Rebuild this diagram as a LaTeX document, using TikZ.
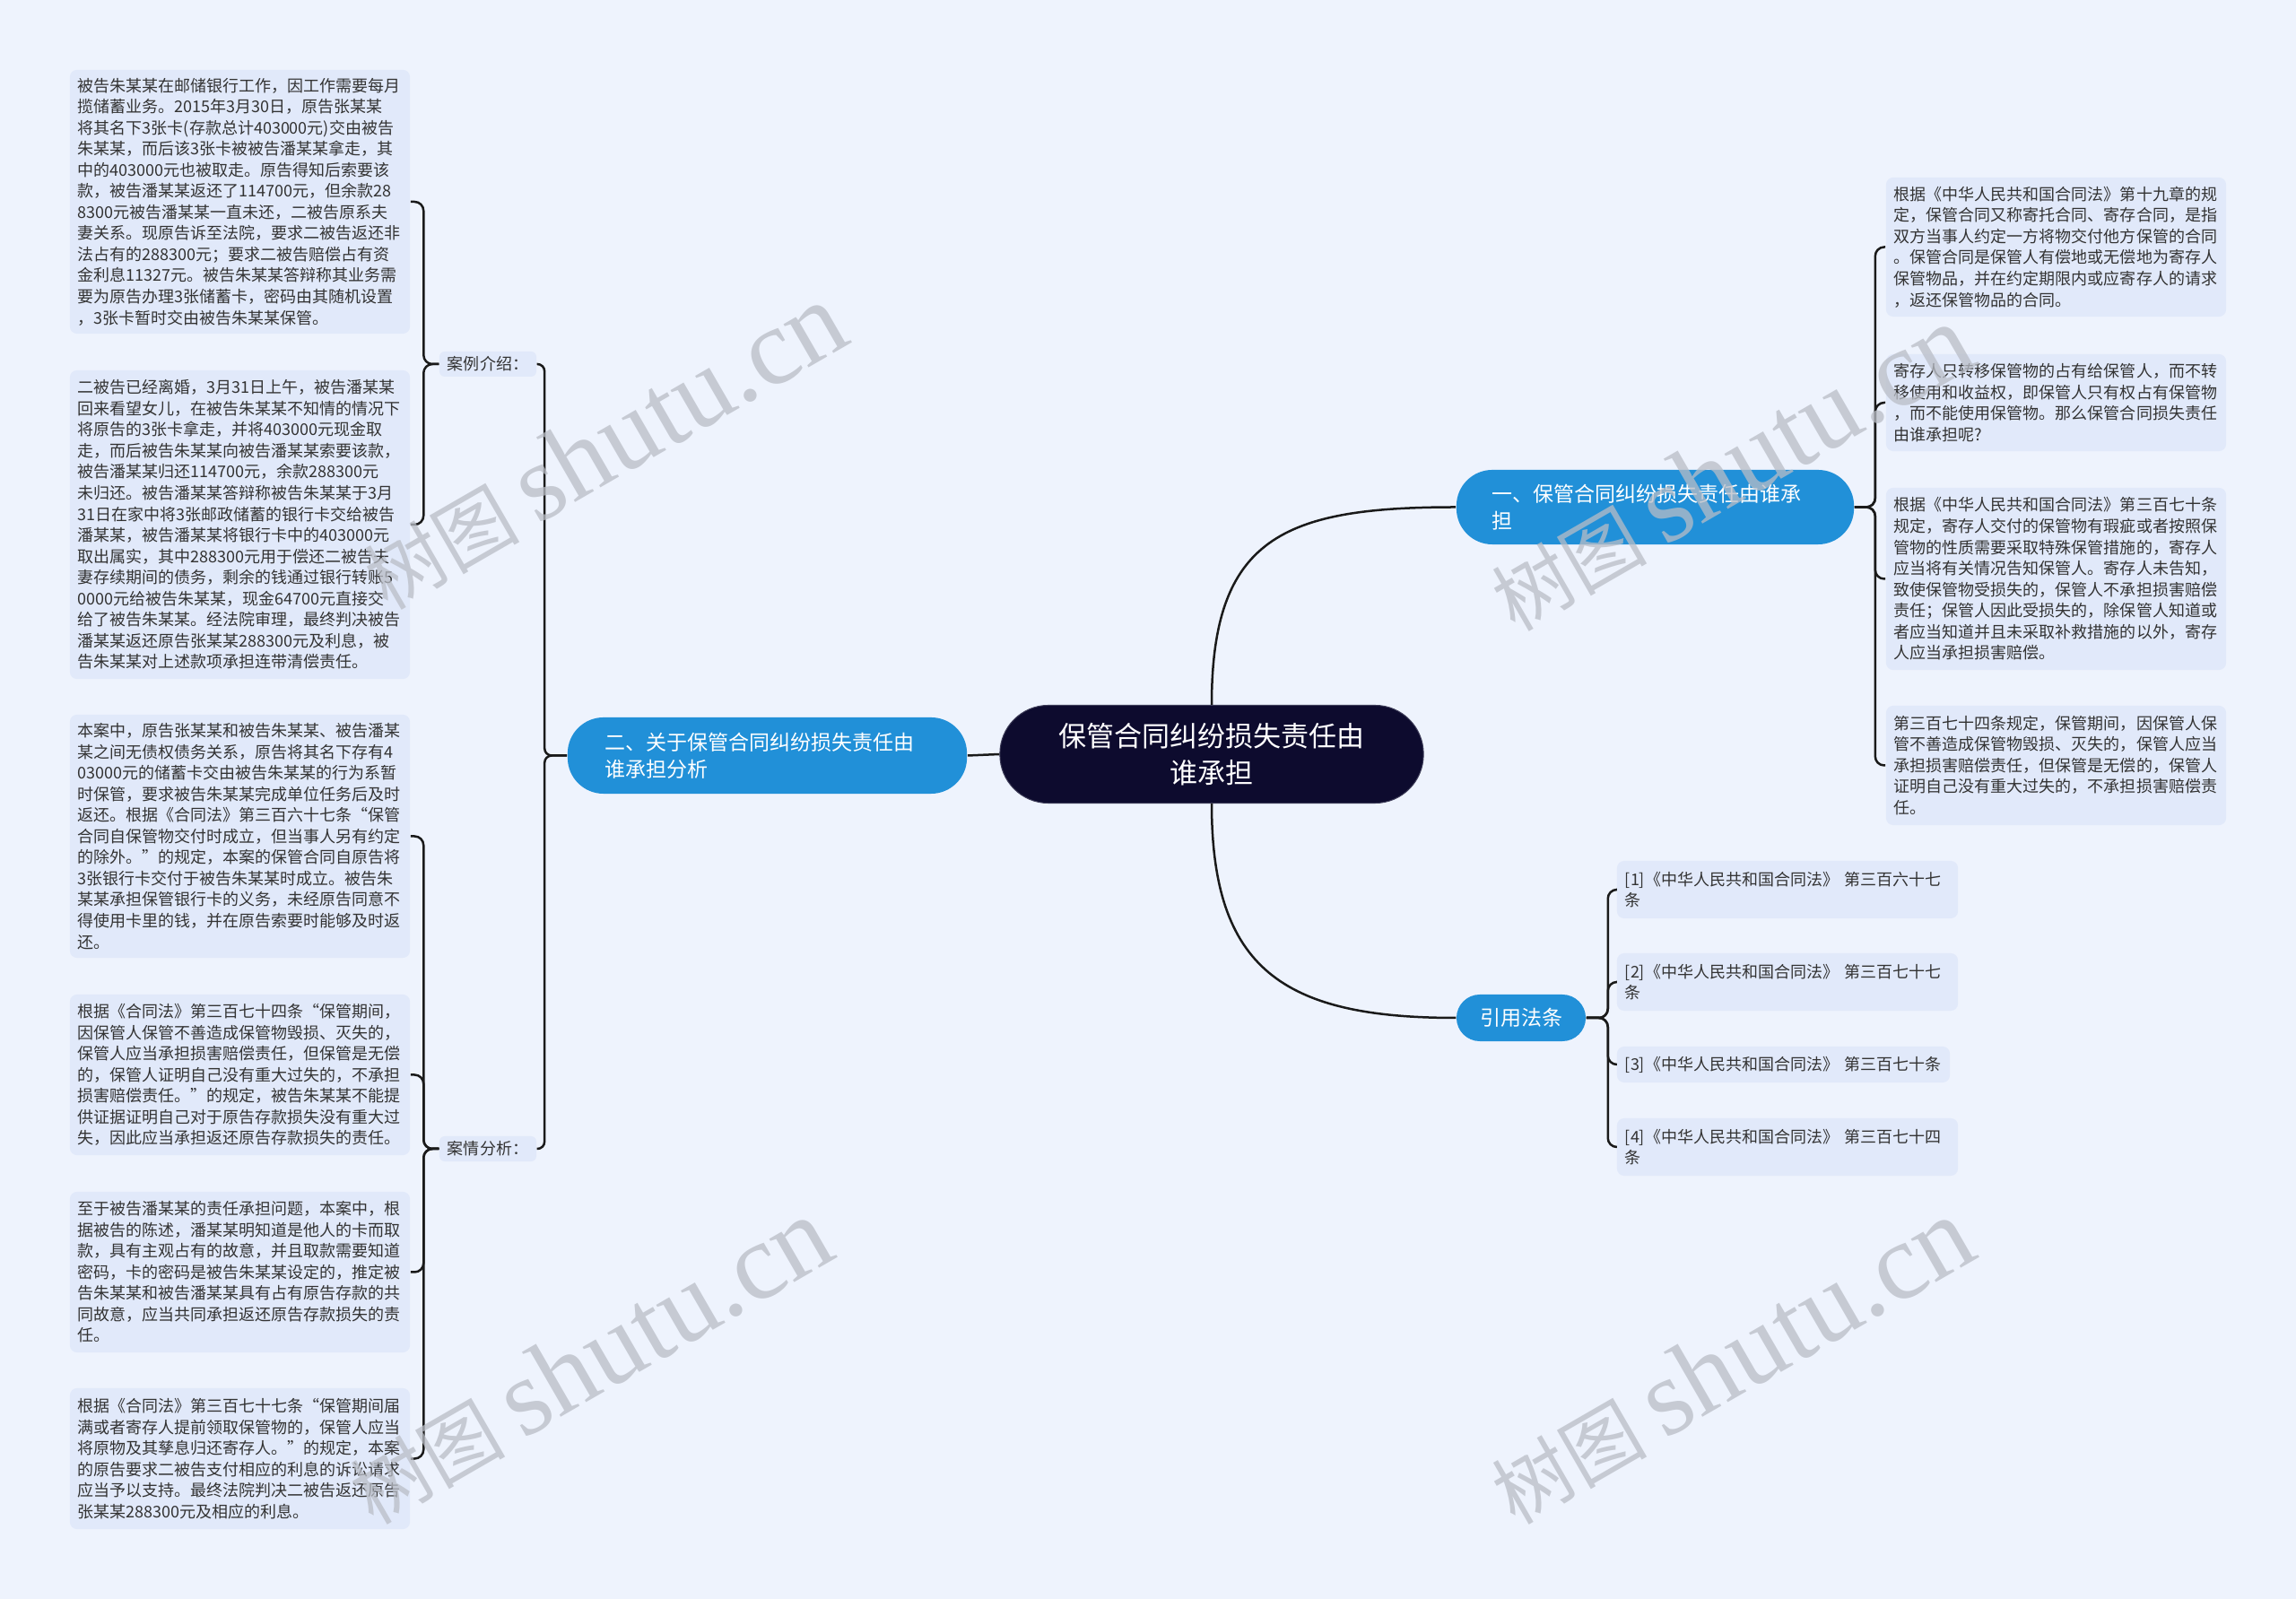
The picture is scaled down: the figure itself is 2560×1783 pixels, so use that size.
\documentclass[tikz,border=0pt]{standalone}
\usepackage{fontspec}
\setmainfont{Noto Sans CJK SC}
\newfontfamily\wmlat{Liberation Serif}
\usetikzlibrary{positioning}
\definecolor{bgc}{HTML}{EEF3FD}
\definecolor{boxc}{HTML}{E1E9FA}
\definecolor{txt}{HTML}{333333}
\definecolor{brc}{HTML}{2190D8}
\definecolor{rootc}{HTML}{0D0B2E}
\definecolor{linec}{HTML}{1A1A1A}
\definecolor{wmc}{HTML}{B9BDC6}
\newcommand\boxfont{\fontsize{5.12pt}{6.69pt}\selectfont}
\newcommand\brfont{\fontsize{6.54pt}{8.54pt}\selectfont}
\newcommand\rootfont{\fontsize{8.82pt}{11.67pt}\selectfont}
\newcommand\wmtext{\fontsize{24.6pt}{26pt}\selectfont 树图 {\wmlat\fontsize{34.5pt}{36pt}\selectfont shutu.cn}}
\tikzset{
  txtbox/.style={rectangle, rounded corners=0.08cm, fill=boxc, text=txt, align=left,
    inner xsep=0.09cm, inner ysep=0cm, font=\boxfont},
  lab/.style={rectangle, rounded corners=0.06cm, fill=boxc, text=txt, align=center,
    inner xsep=0.09cm, inner ysep=0cm, font=\boxfont, minimum width=1.08cm, minimum height=0.28cm},
  branch/.style={rectangle, rounded corners=0.4cm, fill=brc, text=white, align=left,
    inner ysep=0cm, font=\brfont},
  rootbox/.style={rectangle, rounded corners=0.54cm, fill=rootc, draw=rootc!80!white, line width=0.01cm,
    text=white, align=center, inner sep=0cm, font=\rootfont, minimum width=4.72cm, minimum height=1.09cm},
  conn/.style={draw=linec, line width=0.025cm},
  wm/.style={text=wmc, opacity=0.75, rotate=30, inner sep=0cm}
}
\begin{document}
\begin{tikzpicture}[x=0.01cm, y=-0.01cm]
\fill[bgc] (0,0) rectangle (2560,1783);
\useasboundingbox (0,0) rectangle (2560,1783);

% root
\node[rootbox] (root) at (1351,841) {保管合同纠纷损失责任由\\谁承担};

% branches
\node[branch, minimum width=4.43cm, minimum height=0.83cm, text width=3.63cm, inner xsep=0.4cm] (b1) at (1845.5,565.5) {一、保管合同纠纷损失责任由谁承\\担};
\node[branch, minimum width=4.45cm, minimum height=0.85cm, text width=3.61cm, inner xsep=0.42cm] (b2) at (855.5,842.5) {二、关于保管合同纠纷损失责任由\\谁承担分析};
\node[branch, rounded corners=0.26cm, align=center, minimum width=1.44cm, minimum height=0.52cm, inner xsep=0cm] (b3) at (1696,1135) {引用法条};

% labels
\node[lab] (lab1) at (544,406) {案例介绍：};
\node[lab] (lab2) at (544,1281) {案情分析：};

% left boxes
\node[txtbox, minimum width=3.79cm, text width=3.61cm, minimum height=2.94cm] (l1) at (267.5,225) {被告朱某某在邮储银行工作，因工作需要每月\\揽储蓄业务。2015年3月30日，原告张某某\\将其名下3张卡(存款总计403000元)交由被告\\朱某某，而后该3张卡被被告潘某某拿走，其\\中的403000元也被取走。原告得知后索要该\\款，被告潘某某返还了114700元，但余款28\\8300元被告潘某某一直未还，二被告原系夫\\妻关系。现原告诉至法院，要求二被告返还非\\法占有的288300元；要求二被告赔偿占有资\\金利息11327元。被告朱某某答辩称其业务需\\要为原告办理3张储蓄卡，密码由其随机设置\\，3张卡暂时交由被告朱某某保管。};
\node[txtbox, minimum width=3.79cm, text width=3.61cm, minimum height=3.44cm] (l2) at (267.5,585) {二被告已经离婚，3月31日上午，被告潘某某\\回来看望女儿，在被告朱某某不知情的情况下\\将原告的3张卡拿走，并将403000元现金取\\走，而后被告朱某某向被告潘某某索要该款，\\被告潘某某归还114700元，余款288300元\\未归还。被告潘某某答辩称被告朱某某于3月\\31日在家中将3张邮政储蓄的银行卡交给被告\\潘某某，被告潘某某将银行卡中的403000元\\取出属实，其中288300元用于偿还二被告夫\\妻存续期间的债务，剩余的钱通过银行转账5\\0000元给被告朱某某，现金64700元直接交\\给了被告朱某某。经法院审理，最终判决被告\\潘某某返还原告张某某288300元及利息，被\\告朱某某对上述款项承担连带清偿责任。};
\node[txtbox, minimum width=3.79cm, text width=3.61cm, minimum height=2.71cm] (l3) at (267.5,932.5) {本案中，原告张某某和被告朱某某、被告潘某\\某之间无债权债务关系，原告将其名下存有4\\03000元的储蓄卡交由被告朱某某的行为系暂\\时保管，要求被告朱某某完成单位任务后及时\\返还。根据《合同法》第三百六十七条“保管\\合同自保管物交付时成立，但当事人另有约定\\的除外。”的规定，本案的保管合同自原告将\\3张银行卡交付于被告朱某某时成立。被告朱\\某某承担保管银行卡的义务，未经原告同意不\\得使用卡里的钱，并在原告索要时能够及时返\\还。};
\node[txtbox, minimum width=3.79cm, text width=3.61cm, minimum height=1.79cm] (l4) at (267.5,1198.5) {根据《合同法》第三百七十四条“保管期间，\\因保管人保管不善造成保管物毁损、灭失的，\\保管人应当承担损害赔偿责任，但保管是无偿\\的，保管人证明自己没有重大过失的，不承担\\损害赔偿责任。”的规定，被告朱某某不能提\\供证据证明自己对于原告存款损失没有重大过\\失，因此应当承担返还原告存款损失的责任。};
\node[txtbox, minimum width=3.79cm, text width=3.61cm, minimum height=1.79cm] (l5) at (267.5,1418.5) {至于被告潘某某的责任承担问题，本案中，根\\据被告的陈述，潘某某明知道是他人的卡而取\\款，具有主观占有的故意，并且取款需要知道\\密码，卡的密码是被告朱某某设定的，推定被\\告朱某某和被告潘某某具有占有原告存款的共\\同故意，应当共同承担返还原告存款损失的责\\任。};
\node[txtbox, minimum width=3.79cm, text width=3.61cm, minimum height=1.57cm] (l6) at (267.5,1626.5) {根据《合同法》第三百七十七条“保管期间届\\满或者寄存人提前领取保管物的，保管人应当\\将原物及其孳息归还寄存人。”的规定，本案\\的原告要求二被告支付相应的利息的诉讼请求\\应当予以支持。最终法院判决二被告返还原告\\张某某288300元及相应的利息。};

% right children of b1
\node[txtbox, minimum width=3.79cm, text width=3.61cm, minimum height=1.55cm] (c1) at (2292.5,275.5) {根据《中华人民共和国合同法》第十九章的规\\定，保管合同又称寄托合同、寄存合同，是指\\双方当事人约定一方将物交付他方保管的合同\\。保管合同是保管人有偿地或无偿地为寄存人\\保管物品，并在约定期限内或应寄存人的请求\\，返还保管物品的合同。};
\node[txtbox, minimum width=3.79cm, text width=3.61cm, minimum height=1.08cm] (c2) at (2292.5,449) {寄存人只转移保管物的占有给保管人，而不转\\移使用和收益权，即保管人只有权占有保管物\\，而不能使用保管物。那么保管合同损失责任\\由谁承担呢?};
\node[txtbox, minimum width=3.79cm, text width=3.61cm, minimum height=2.03cm] (c3) at (2292.5,645.5) {根据《中华人民共和国合同法》第三百七十条\\规定，寄存人交付的保管物有瑕疵或者按照保\\管物的性质需要采取特殊保管措施的，寄存人\\应当将有关情况告知保管人。寄存人未告知，\\致使保管物受损失的，保管人不承担损害赔偿\\责任；保管人因此受损失的，除保管人知道或\\者应当知道并且未采取补救措施的以外，寄存\\人应当承担损害赔偿。};
\node[txtbox, minimum width=3.79cm, text width=3.61cm, minimum height=1.33cm] (c4) at (2292.5,853.5) {第三百七十四条规定，保管期间，因保管人保\\管不善造成保管物毁损、灭失的，保管人应当\\承担损害赔偿责任，但保管是无偿的，保管人\\证明自己没有重大过失的，不承担损害赔偿责\\任。};

% references
\node[txtbox, minimum width=3.80cm, text width=3.62cm, minimum height=0.64cm] (r1) at (1993,992) {[1]《中华人民共和国合同法》 第三百六十七\\条};
\node[txtbox, minimum width=3.80cm, text width=3.62cm, minimum height=0.64cm] (r2) at (1993,1095) {[2]《中华人民共和国合同法》 第三百七十七\\条};
\node[txtbox, minimum width=3.71cm, text width=3.53cm, minimum height=0.40cm] (r3) at (1988.5,1187) {[3]《中华人民共和国合同法》 第三百七十条};
\node[txtbox, minimum width=3.80cm, text width=3.62cm, minimum height=0.64cm] (r4) at (1993,1279) {[4]《中华人民共和国合同法》 第三百七十四\\条};

% main connectors
\draw[conn] (root.north) .. controls (1351,600) and (1430,565.5) .. (b1.west);
\draw[conn] (root.south) .. controls (1351,1080) and (1430,1135) .. (b3.west);
\draw[conn] (root.west) -- (b2.east);

% b1 children
\foreach \c in {c1,c2,c3,c4}
  \draw[conn, rounded corners=0.1cm] (b1.east) -- ++(23,0) |- (\c.west);
% b2 labels
\foreach \c in {lab1,lab2}
  \draw[conn, rounded corners=0.08cm] (b2.west) -- ++(-25,0) |- (\c.east);
% label children
\foreach \c in {l1,l2}
  \draw[conn, rounded corners=0.1cm] (lab1.west) -- ++(-17,0) |- (\c.east);
\foreach \c in {l3,l4,l5,l6}
  \draw[conn, rounded corners=0.1cm] (lab2.west) -- ++(-17,0) |- (\c.east);
% references
\foreach \c in {r1,r2,r3,r4}
  \draw[conn, rounded corners=0.1cm] (b3.east) -- ++(24,0) |- (\c.west);

% watermarks
\node[wm] (wm1) at (673,498) {\wmtext};
\node[wm] (wm2) at (1930,522) {\wmtext};
\node[wm] (wm3) at (657,1518) {\wmtext};
\node[wm] (wm4) at (1930,1518) {\wmtext};
\end{tikzpicture}
\end{document}
